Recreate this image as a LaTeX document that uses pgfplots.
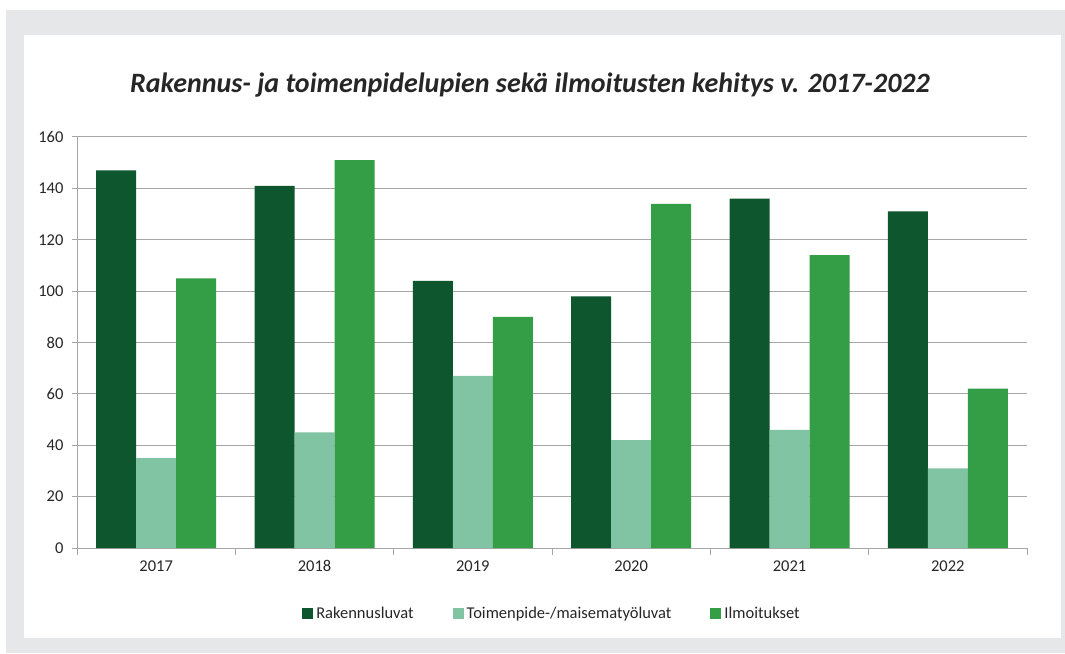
\documentclass[border=0pt]{standalone}
\usepackage{fontspec}
\setmainfont{Carlito}
\usepackage{pgfplots}
\pgfplotsset{compat=1.18}
\definecolor{cdark}{HTML}{0E562E}
\definecolor{clight}{HTML}{80C4A3}
\definecolor{cmed}{HTML}{349E46}
\definecolor{bggray}{HTML}{E6E7E8}
\definecolor{gridgray}{HTML}{A6A6A6}
\definecolor{txt}{HTML}{262626}
\begin{document}
\begin{tikzpicture}[x=1pt,y=1pt]
\path[use as bounding box] (0,0) rectangle (1065,653);
\fill[white] (0,0) rectangle (1065,653);
\fill[bggray] (6,0) rectangle (1065,643);
\fill[white] (24,15.5) rectangle (1061,618);
\node[font=\fontsize{28}{32}\selectfont\bfseries\itshape, text=txt] at (530,568) {Rakennus- ja toimenpidelupien sekä ilmoitusten kehitys v. 2017-2022};
\begin{axis}[
  at={(77pt,105pt)}, anchor=south west,
  scale only axis, width=950pt, height=411pt,
  ymin=0, ymax=160, xmin=-0.5, xmax=5.5,
  ytick={0,20,...,160},
  xtick={0,...,5}, xticklabels={2017,2018,2019,2020,2021,2022},
  minor xtick={-0.5,0.5,...,5.5},
  ymajorgrids, grid style={gridgray, line width=1pt},
  axis lines*=left,
  axis line style={gridgray, line width=1pt},
  tick align=outside,
  major tick length=5pt, minor tick length=7pt,
  major x tick style={draw=none},
  minor x tick style={gridgray, line width=1pt},
  major y tick style={gridgray, line width=1pt},
  ticklabel style={font=\fontsize{16.5}{20}\selectfont, text=txt},
  yticklabel style={xshift=-5pt},
  xticklabel style={yshift=-4pt},
  /pgf/number format/assume math mode=true,
  ybar=0pt, bar width=40pt,
  legend columns=3,
  legend style={at={(0.5,-0.16)}, anchor=center, draw=none, fill=none,
    font=\fontsize{16.5}{20}\selectfont, text=txt,
    /tikz/every even column/.append style={column sep=37pt},
    /tikz/every odd column/.append style={column sep=1pt}},
  legend image code/.code={\fill[#1] (0pt,-5.5pt) rectangle (11pt,5.5pt);},
]
\addplot[fill=cdark, draw=none] coordinates {(0,147) (1,141) (2,104) (3,98) (4,136) (5,131)};
\addplot[fill=clight, draw=none] coordinates {(0,35) (1,45) (2,67) (3,42) (4,46) (5,31)};
\addplot[fill=cmed, draw=none] coordinates {(0,105) (1,151) (2,90) (3,134) (4,114) (5,62)};
\legend{Rakennusluvat, Toimenpide-/maisematyöluvat, Ilmoitukset}
\end{axis}
\end{tikzpicture}
\end{document}
